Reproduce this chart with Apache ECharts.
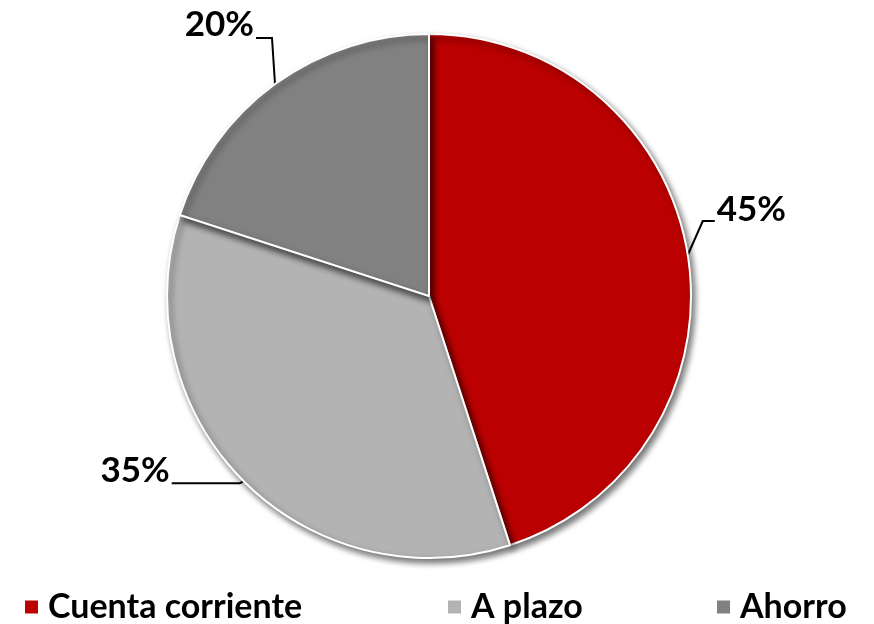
<!DOCTYPE html>
<html>
<head>
<meta charset="utf-8">
<script src="https://cdn.jsdelivr.net/npm/echarts@6/dist/echarts.min.js"></script>
<style>
html,body{margin:0;height:100%;background:#fff;}
#main{width:874px;height:624px;}
</style>
</head>
<body>
<div id="main"></div>
<script>
var categories = ['Cuenta corriente', 'A plazo', 'Ahorro'];
var values = [45, 35, 20];
var colors = ['#BA0000', '#B3B3B3', '#818181'];
var legendLeft = [18, 441, 710];

// leader line shape from the slice edge: elbow dx, elbow dy, horizontal run, label dy
var leader = [
    [15, -34, 12, -11],
    [-4, 2, -68, -13],
    [-3, -46, -16, -13]
];

var font = 'Lato';
var chart = echarts.init(document.getElementById('main'));

var data = categories.map(function (c, i) {
    return { name: c, value: values[i], itemStyle: { color: colors[i] } };
});

chart.setOption({
    animation: false,
    color: colors,
    legend: categories.map(function (c, i) {
        return {
            data: [c],
            left: legendLeft[i],
            top: 585,
            icon: 'rect',
            itemWidth: 15,
            itemHeight: 15,
            textStyle: {
                fontFamily: font,
                fontWeight: 'bold',
                fontSize: 34,
                color: '#000',
                padding: [0, 0, 0, 4]
            }
        };
    }),
    series: [{
        type: 'pie',
        center: [429, 296],
        radius: 262,
        startAngle: 90,
        clockwise: true,
        data: data,
        itemStyle: {
            borderColor: '#fff',
            borderWidth: 2,
            shadowBlur: 6,
            shadowOffsetX: 3,
            shadowOffsetY: 4,
            shadowColor: 'rgba(0,0,0,0.55)'
        },
        label: {
            formatter: '{d}%',
            fontFamily: font,
            fontWeight: 'bold',
            fontSize: 35,
            color: '#000'
        },
        labelLine: {
            length: 20,
            length2: 14,
            lineStyle: { color: '#000', width: 2 }
        },
        labelLayout: function (p) {
            var pts = p.labelLinePoints;
            if (!pts) return {};
            var l = leader[p.dataIndex];
            var p0 = pts[0];
            var p1 = [p0[0] + l[0], p0[1] + l[1]];
            var p2 = [p1[0] + l[2], p1[1]];
            var right = l[2] > 0;
            return {
                x: p2[0] + (right ? 2 : -2),
                y: p2[1] + l[3],
                align: right ? 'left' : 'right',
                verticalAlign: 'middle',
                labelLinePoints: [p0, p1, p2]
            };
        },
        emphasis: { disabled: true }
    }]
});
</script>
</body>
</html>
